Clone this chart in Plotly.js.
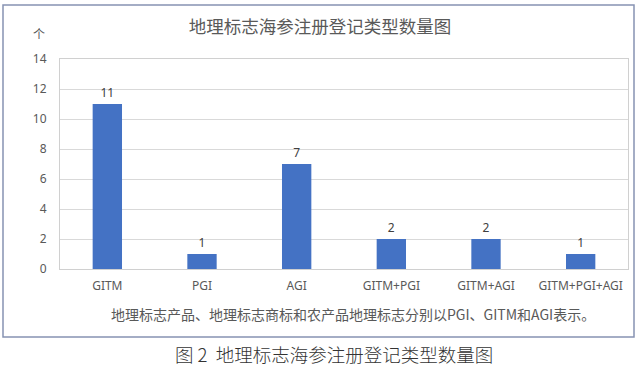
<!DOCTYPE html>
<html>
<head>
<meta charset="utf-8">
<script src="https://cdn.plot.ly/plotly-3.0.1.min.js"></script>
<style>html,body{margin:0;padding:0;background:#fff;}#chart{width:640px;height:374px;}</style>
</head>
<body>
<div id="chart"></div>
<script>
const categories = ["GITM", "PGI", "AGI", "GITM+PGI", "GITM+AGI", "GITM+PGI+AGI"];
const counts = [11, 1, 7, 2, 2, 1];
const yTicks = [0, 2, 4, 6, 8, 10, 12, 14];
const chartTitle = "地理标志海参注册登记类型数量图";
const yUnit = "个";
const footnote = "地理标志产品、地理标志商标和农产品地理标志分别以PGI、GITM和AGI表示。";
const caption = "图\u00a02\u00a0\u00a0地理标志海参注册登记类型数量图";

const FONT = "'Noto Sans', 'Noto Sans CJK SC', sans-serif";

const trace = {
  type: "bar",
  x: categories,
  y: counts,
  text: counts.map(String),
  textposition: "outside",
  textfont: {family: FONT, size: 12, color: "#404040"},
  cliponaxis: false,
  marker: {color: "#4472C4"},
  hoverinfo: "skip"
};

const layout = {
  width: 640, height: 374,
  margin: {l: 60, r: 12, t: 59, b: 105},
  paper_bgcolor: "#ffffff",
  plot_bgcolor: "#ffffff",
  bargap: 0.69,
  showlegend: false,
  font: {family: FONT, color: "#595959"},
  title: {
    text: chartTitle,
    font: {family: "'Noto Sans CJK SC', sans-serif", size: 17.5, color: "#595959"},
    x: 0.5, xref: "container", xanchor: "center",
    y: 1 - 27/374, yref: "container", yanchor: "middle"
  },
  xaxis: {
    type: "category",
    tickfont: {family: FONT, size: 12, color: "#595959"},
    showline: true, mirror: true, linecolor: "#d0d0d0", linewidth: 1,
    showgrid: false, ticks: "", ticklabelstandoff: 6, zeroline: false
  },
  yaxis: {
    range: [0, 14],
    tickvals: yTicks,
    tickfont: {family: FONT, size: 12, color: "#595959"},
    showline: true, mirror: true, linecolor: "#d0d0d0", linewidth: 1,
    gridcolor: "#d9d9d9", gridwidth: 1,
    ticks: "", ticklabelstandoff: 10, zeroline: false
  },
  shapes: [{
    type: "rect", xref: "paper", yref: "paper",
    x0: (3-60)/568, x1: (634-60)/568,
    y0: (269-337)/210, y1: (269-5)/210,
    line: {color: "#8793b3", width: 1.5},
    fillcolor: "rgba(0,0,0,0)",
    layer: "above"
  }],
  annotations: [
    {text: yUnit, xref: "paper", yref: "paper", x: (39-60)/568, y: (269-33)/210,
     xanchor: "center", yanchor: "middle", showarrow: false,
     font: {family: "'Noto Sans CJK SC', sans-serif", size: 12, color: "#595959"}},
    {text: footnote, xref: "paper", yref: "paper", x: (353-60)/568, y: (269-314)/210,
     xanchor: "center", yanchor: "middle", showarrow: false,
     font: {family: "'Noto Sans CJK SC', sans-serif", size: 14, color: "#595959"}},
    {text: caption, xref: "paper", yref: "paper", x: (334-60)/568, y: (269-354)/210,
     xanchor: "center", yanchor: "middle", showarrow: false,
     font: {family: "'Noto Sans CJK SC', sans-serif", size: 18.5, weight: 300, color: "#333333"}}
  ]
};

Plotly.newPlot("chart", [trace], layout, {displayModeBar: false, staticPlot: true});
</script>
</body>
</html>
